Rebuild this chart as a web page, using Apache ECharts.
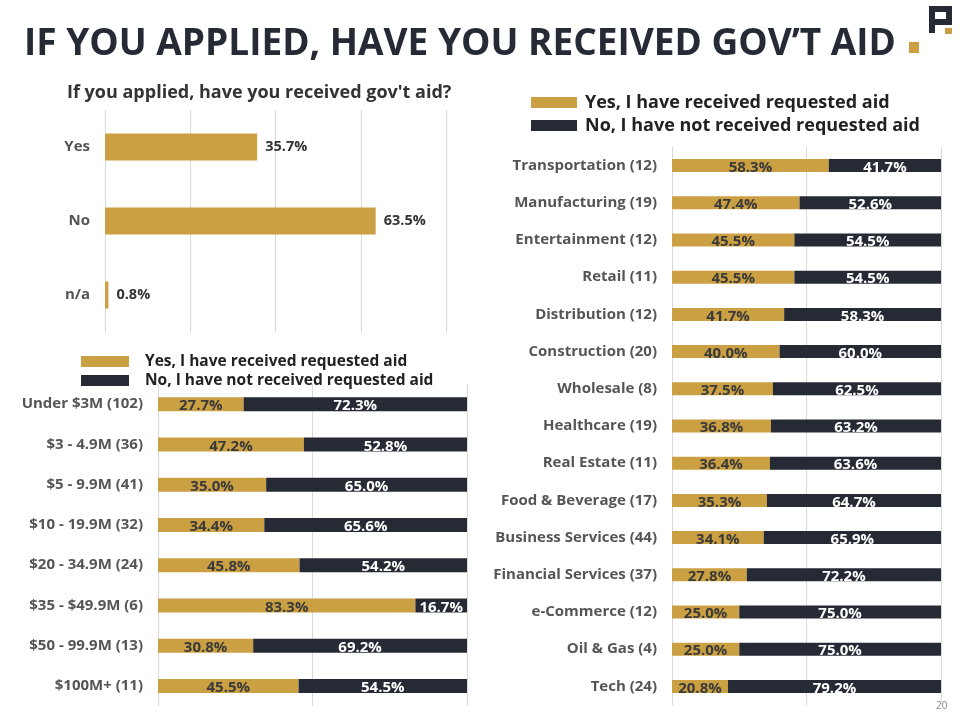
<!DOCTYPE html>
<html><head><meta charset="utf-8">
<script src="https://cdn.jsdelivr.net/npm/echarts@6/dist/echarts.min.js"></script>
<style>html,body{margin:0;padding:0;background:#fff}#c{width:960px;height:720px}</style>
</head><body><div id="c"></div>
<script>
// ---- data ----
const overallCats = ['Yes', 'No', 'n/a'];
const overallVals = [35.7, 63.5, 0.8];

const revenueCats = ['Under $3M (102)', '$3 - 4.9M (36)', '$5 - 9.9M (41)', '$10 - 19.9M (32)', '$20 - 34.9M (24)', '$35 - $49.9M (6)', '$50 - 99.9M (13)', '$100M+ (11)'];
const revenueYes = [27.7, 47.2, 35.0, 34.4, 45.8, 83.3, 30.8, 45.5];
const revenueNo = [72.3, 52.8, 65.0, 65.6, 54.2, 16.7, 69.2, 54.5];

const industryCats = ['Transportation (12)', 'Manufacturing (19)', 'Entertainment (12)', 'Retail (11)', 'Distribution (12)', 'Construction (20)', 'Wholesale (8)', 'Healthcare (19)', 'Real Estate (11)', 'Food & Beverage (17)', 'Business Services (44)', 'Financial Services (37)', 'e-Commerce (12)', 'Oil & Gas (4)', 'Tech (24)'];
const industryYes = [58.3, 47.4, 45.5, 45.5, 41.7, 40.0, 37.5, 36.8, 36.4, 35.3, 34.1, 27.8, 25.0, 25.0, 20.8];
const industryNo = [41.7, 52.6, 54.5, 54.5, 58.3, 60.0, 62.5, 63.2, 63.6, 64.7, 65.9, 72.2, 75.0, 75.0, 79.2];

const yesName = 'Yes, I have received requested aid';
const noName = 'No, I have not received requested aid';

// ---- style ----
const GOLD = '#CBA042';
const DARK = '#262A35';
const FONT = '"Open Sans", Lato, sans-serif';
const pct = p => p.value.toFixed(1) + '%';

const chart = echarts.init(document.getElementById('c'), null, {renderer: 'canvas'});

function catAxis(gi, data, size) {
  return {
    type: 'category', gridIndex: gi, data: data, inverse: true,
    axisLine: {show: false}, axisTick: {show: false},
    axisLabel: {color: '#555', fontFamily: FONT, fontWeight: 'bold', fontSize: size, margin: 15}
  };
}
function valAxis(gi, max, interval) {
  return {
    type: 'value', gridIndex: gi, min: 0, max: max, interval: interval,
    axisLine: {show: false}, axisTick: {show: false}, axisLabel: {show: false},
    splitLine: {show: true, lineStyle: {color: '#d9d9d9', width: 1}}
  };
}
function stackPair(gi, yes, no, bw, fs) {
  return [
    {name: yesName, type: 'bar', stack: 's' + gi, xAxisIndex: gi, yAxisIndex: gi, data: yes,
     barWidth: bw, itemStyle: {color: GOLD},
     label: {show: true, position: 'inside', formatter: pct, color: '#3a3a3a', fontFamily: FONT, fontWeight: 'bold', fontSize: fs, offset: [0, 2]}},
    {name: noName, type: 'bar', stack: 's' + gi, xAxisIndex: gi, yAxisIndex: gi, data: no,
     barWidth: bw, itemStyle: {color: DARK},
     label: {show: true, position: 'inside', formatter: pct, color: '#fff', fontFamily: FONT, fontWeight: 'bold', fontSize: fs, offset: [0, 2]}}
  ];
}

const option = {
  backgroundColor: '#fff',
  animation: false,
  title: [
    {text: 'IF YOU APPLIED, HAVE YOU RECEIVED GOV\u2019T AID', left: 19, top: 21,
     textStyle: {color: DARK, fontFamily: FONT, fontWeight: 'bold', fontSize: 37}},
    {text: "If you applied, have you received gov't aid?", left: 62, top: 79,
     textStyle: {color: '#333', fontFamily: FONT, fontWeight: 'bold', fontSize: 18}}
  ],
  legend: [
    {orient: 'vertical', left: 76, top: 347, itemWidth: 48, itemHeight: 11, itemGap: 0, icon: 'rect',
     data: [yesName, noName], selectedMode: false,
     textStyle: {color: '#222', fontFamily: FONT, fontWeight: 'bold', fontSize: 15.5, lineHeight: 19, padding: [0, 0, 0, 11]}},
    {orient: 'vertical', left: 526, top: 87, itemWidth: 46, itemHeight: 11, itemGap: 2, icon: 'rect',
     data: [yesName, noName], selectedMode: false,
     textStyle: {color: '#222', fontFamily: FONT, fontWeight: 'bold', fontSize: 18, lineHeight: 21, padding: [0, 0, 0, 3]}}
  ],
  grid: [
    {left: 105, right: 514, top: 110, height: 222},
    {left: 158, right: 493, top: 384, height: 322},
    {left: 672, right: 19, top: 147, height: 558}
  ],
  xAxis: [valAxis(0, 80, 20), valAxis(1, 100, 50), valAxis(2, 100, 50)],
  yAxis: [catAxis(0, overallCats, 15), catAxis(1, revenueCats, 15), catAxis(2, industryCats, 15)],
  series: [
    {name: 'overall', type: 'bar', xAxisIndex: 0, yAxisIndex: 0, data: overallVals, barWidth: 27,
     itemStyle: {color: GOLD},
     label: {show: true, position: 'right', distance: 8, formatter: pct, color: '#333', fontFamily: FONT, fontWeight: 'bold', fontSize: 14.5}},
    ...stackPair(1, revenueYes, revenueNo, 14, 15),
    ...stackPair(2, industryYes, industryNo, 13, 15)
  ],
  graphic: [
    {type: 'rect', shape: {x: 909, y: 42, width: 10, height: 11}, style: {fill: GOLD}},
    // logo "P"
    {type: 'rect', shape: {x: 929, y: 6, width: 6, height: 27}, style: {fill: DARK}},
    {type: 'rect', shape: {x: 929, y: 6, width: 23, height: 6}, style: {fill: DARK}},
    {type: 'rect', shape: {x: 946, y: 6, width: 6, height: 19}, style: {fill: DARK}},
    {type: 'rect', shape: {x: 929, y: 19, width: 23, height: 6}, style: {fill: DARK}},
    {type: 'rect', shape: {x: 945, y: 28, width: 7, height: 6}, style: {fill: GOLD}},
    {type: 'text', left: 936, top: 701, style: {text: '20', fill: '#888', font: '10px "Open Sans", sans-serif'}}
  ]
};
chart.setOption(option);
</script></body></html>
